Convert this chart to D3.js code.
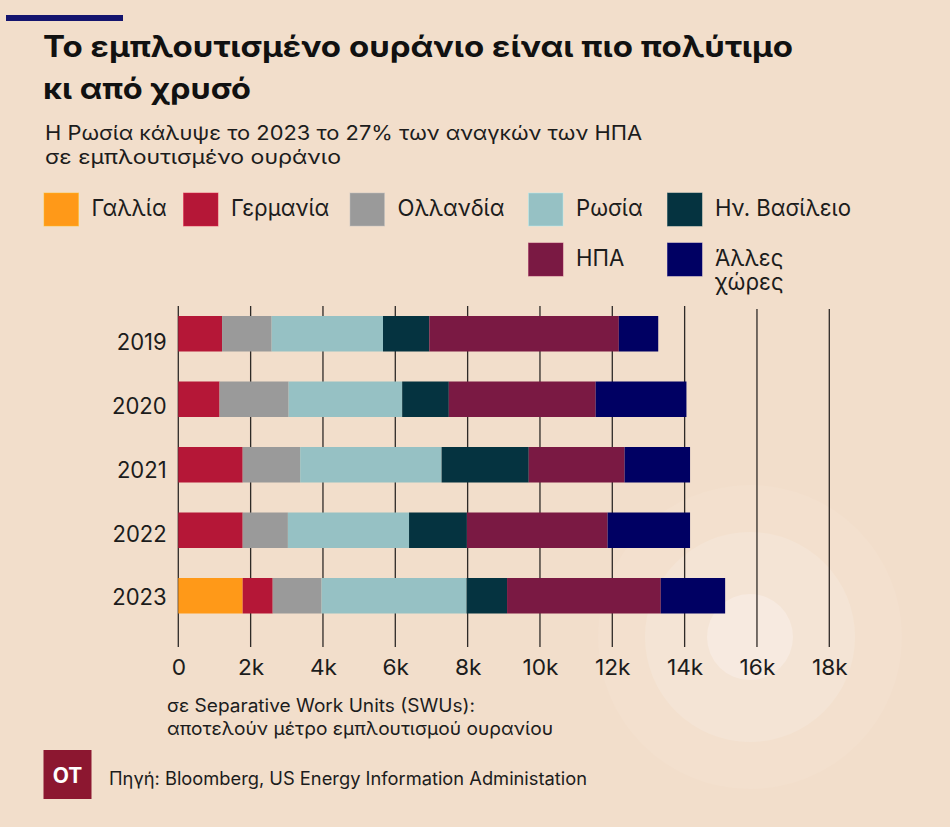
<!DOCTYPE html>
<html>
<head>
<meta charset="utf-8">
<script src="https://cdn.jsdelivr.net/npm/d3@7"></script>
<style>
  html, body { margin: 0; padding: 0; background: #F2DECB; }
  svg { display: block; }
</style>
</head>
<body>
<svg id="chart" width="950" height="827"></svg>
<script>
// ---------- DATA (SWUs) ----------
const years = ["2019", "2020", "2021", "2022", "2023"];
const seriesNames = ["Γαλλία", "Γερμανία", "Ολλανδία", "Ρωσία", "Ην. Βασίλειο", "ΗΠΑ", "Άλλες χώρες"];
const seriesKeys = ["france", "germany", "netherlands", "russia", "uk", "usa", "other"];
const france      = [0,    0,    0,    0,    1780];
const germany     = [1210, 1140, 1780, 1780, 830];
const netherlands = [1370, 1910, 1590, 1250, 1350];
const russia      = [3080, 3140, 3910, 3350, 4010];
const uk          = [1280, 1290, 2410, 1600, 1120];
const usa         = [5240, 4060, 2650, 3890, 4250];
const other       = [1090, 2510, 1810, 2280, 1780];
const tickValues  = [0, 2000, 4000, 6000, 8000, 10000, 12000, 14000, 16000, 18000];
const tickLabels  = ["0", "2k", "4k", "6k", "8k", "10k", "12k", "14k", "16k", "18k"];
const colors      = ["#FF9918", "#B51737", "#9A9A9A", "#96C1C4", "#053340", "#7A1943", "#000063"];

const rows = years.map((y, i) => ({
  year: y, france: france[i], germany: germany[i], netherlands: netherlands[i],
  russia: russia[i], uk: uk[i], usa: usa[i], other: other[i]
}));

// ---------- SETUP ----------
const svg = d3.select("#chart");
const FONT = "Inter, 'Open Sans', 'Noto Sans', sans-serif";
const TEXT = "#1c1c1c";

svg.append("rect").attr("width", 950).attr("height", 827).attr("fill", "#F2DECB");

// decorative circles
const deco = svg.append("g");
[[152, "#F3E0CE"], [105, "#F4E4D5"], [43, "#F7EAE0"]].forEach(([r, c]) => {
  deco.append("circle").attr("cx", 750).attr("cy", 637).attr("r", r).attr("fill", c);
});

function fitWidth(sel, w) {
  sel.attr("textLength", w).attr("lengthAdjust", "spacingAndGlyphs");
}
function ratioFit(sel, ratio) {
  sel.each(function () {
    const n = this.getComputedTextLength();
    d3.select(this).attr("textLength", n * ratio).attr("lengthAdjust", "spacingAndGlyphs");
  });
}

// top accent bar
svg.append("rect").attr("x", 6).attr("y", 15).attr("width", 117).attr("height", 6).attr("fill", "#14146E");

// title
const t1 = svg.append("text").attr("x", 43).attr("y", 57).attr("font-family", FONT)
  .attr("font-weight", 700).attr("font-size", 29.5).attr("fill", "#111")
  .text("Το εμπλουτισμένο ουράνιο είναι πιο πολύτιμο");
fitWidth(t1, 750);
const t2 = svg.append("text").attr("x", 43).attr("y", 99).attr("font-family", FONT)
  .attr("font-weight", 700).attr("font-size", 29.5).attr("fill", "#111")
  .text("κι από χρυσό");
fitWidth(t2, 208);

// subtitle
const s1 = svg.append("text").attr("x", 45).attr("y", 139.5).attr("font-family", FONT)
  .attr("font-size", 20).attr("fill", TEXT)
  .text("Η Ρωσία κάλυψε το 2023 το 27% των αναγκών των ΗΠΑ");
fitWidth(s1, 597);
const s2 = svg.append("text").attr("x", 45).attr("y", 164).attr("font-family", FONT)
  .attr("font-size", 20).attr("fill", TEXT)
  .text("σε εμπλουτισμένο ουράνιο");
fitWidth(s2, 296);

// ---------- LEGEND ----------
const legendLayout = [
  { x: 44, y: 193 }, { x: 183.5, y: 193 }, { x: 350, y: 193 }, { x: 528.5, y: 193 },
  { x: 667.5, y: 193 }, { x: 528.5, y: 243 }, { x: 667.5, y: 243 }
];
const legend = svg.append("g");
const legendSpans = [];
seriesNames.forEach((name, i) => {
  const p = legendLayout[i];
  legend.append("rect").attr("x", p.x).attr("y", p.y).attr("width", 34.5).attr("height", 33)
    .attr("fill", colors[i]).attr("stroke", d3.color(colors[i]).brighter(0.6)).attr("stroke-opacity", 0.5).attr("stroke-width", 1);
  const lines = name === "Άλλες χώρες" ? ["Άλλες", "χώρες"] : [name];
  const t = legend.append("text").attr("font-family", FONT).attr("font-size", 23).attr("fill", TEXT);
  lines.forEach((ln, k) => {
    const sp = t.append("tspan").attr("x", p.x + 47.5).attr("y", p.y + 22.5 + k * 24).text(ln);
    legendSpans.push(sp);
  });
});
// common squeeze ratio based on "Ην. Βασίλειο" (136px in reference)
const legendRatio = 136 / legendSpans[4].node().getComputedTextLength();
legendSpans.forEach(t => ratioFit(t, legendRatio));

// ---------- CHART ----------
const x = d3.scaleLinear().domain([0, 18000]).range([178.3, 829.3]);
const y = d3.scaleBand().domain(years).range([316, 613.5]).paddingInner(0.458).paddingOuter(0);
const yLabel = d3.scalePoint().domain(years).range([342, 597]);

// gridlines
const grid = svg.append("g");
grid.selectAll("line").data(tickValues).join("line")
  .attr("x1", d => x(d)).attr("x2", d => x(d))
  .attr("y1", d => d >= 16000 ? 309 : 306).attr("y2", 647)
  .attr("stroke", "#2e2a27").attr("stroke-width", 1.3);

// stacked bars
const stacked = d3.stack().keys(seriesKeys)(rows);
const barsG = svg.append("g");
stacked.forEach((layer, li) => {
  barsG.append("g").attr("fill", colors[li])
    .selectAll("rect").data(layer.filter(d => d[1] - d[0] > 0)).join("rect")
    .attr("x", d => x(d[0]))
    .attr("width", d => x(d[1]) - x(d[0]))
    .attr("y", d => y(d.data.year))
    .attr("height", y.bandwidth());
});

// year labels
const yearTexts = svg.append("g").selectAll("text").data(years).join("text")
  .attr("x", 166.7).attr("y", d => yLabel(d)).attr("dy", "0.36em")
  .attr("text-anchor", "end").attr("font-family", FONT).attr("font-size", 23).attr("fill", TEXT)
  .text(d => d);
const yr = 50 / yearTexts.node().getComputedTextLength();
ratioFit(yearTexts, yr);

// x axis tick labels
const axisG = svg.append("g").attr("transform", "translate(0,647)")
  .call(d3.axisBottom(x).tickValues(tickValues).tickFormat((d, i) => tickLabels[i]).tickSize(0).tickPadding(0));
axisG.select(".domain").remove();
axisG.selectAll("text").attr("font-family", FONT).attr("font-size", 22).attr("fill", TEXT)
  .attr("dy", null).attr("y", 28);
const tenK = axisG.selectAll("text").filter((d) => d === 10000);
const tr = 36 / tenK.node().getComputedTextLength();
ratioFit(axisG.selectAll("text"), tr);

// axis note
const n1 = svg.append("text").attr("x", 167).attr("y", 711.5).attr("font-family", FONT)
  .attr("font-size", 18).attr("fill", TEXT).text("σε Separative Work Units (SWUs):");
fitWidth(n1, 308);
const n2 = svg.append("text").attr("x", 167).attr("y", 735).attr("font-family", FONT)
  .attr("font-size", 18).attr("fill", TEXT).text("αποτελούν μέτρο εμπλουτισμού ουρανίου");
fitWidth(n2, 386);

// footer
svg.append("rect").attr("x", 43.5).attr("y", 750).attr("width", 48).attr("height", 49).attr("fill", "#8C1730");
svg.append("text").attr("x", 67.5).attr("y", 782.5).attr("text-anchor", "middle").attr("font-family", FONT)
  .attr("font-weight", 700).attr("font-size", 21).attr("fill", "#ffffff").text("OT");
const src = svg.append("text").attr("x", 109).attr("y", 785).attr("font-family", FONT)
  .attr("font-size", 18).attr("fill", TEXT).text("Πηγή: Bloomberg, US Energy Information Administation");
fitWidth(src, 478);
</script>
</body>
</html>
